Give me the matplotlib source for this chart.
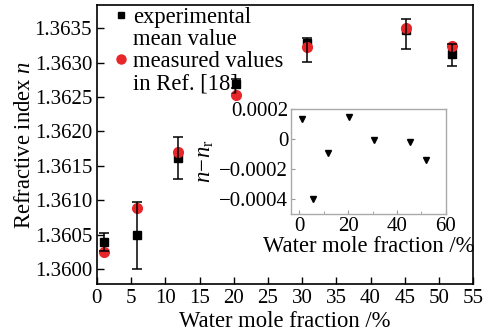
import matplotlib
matplotlib.use("Agg")
import matplotlib.pyplot as plt
from matplotlib.ticker import FuncFormatter, MultipleLocator, FixedLocator
from matplotlib.lines import Line2D

plt.rcParams['font.family'] = ['Liberation Serif', 'DejaVu Serif']
plt.rcParams['mathtext.fontset'] = 'custom'
plt.rcParams['mathtext.rm'] = 'Liberation Serif'
plt.rcParams['mathtext.it'] = 'Liberation Serif:italic'
plt.rcParams['axes.unicode_minus'] = True

# data
water_frac = [1.1, 5.8, 11.9, 20.3, 30.7, 45.2, 51.9]
exp_mean = [1.36039, 1.36049, 1.36161, 1.36269, 1.36329, 1.36348, 1.36312]
err_low = [0.00013, 0.00049, 0.00030, 0.00006, 0.00028, 0.00028, 0.00017]
err_high = [0.00013, 0.00048, 0.00031, 0.00007, 0.00007, 0.00015, 0.00015]
ref_vals = [1.36025, 1.36088, 1.36170, 1.36253, 1.36323, 1.36351, 1.36325]
inset_x = [1.1, 5.8, 11.9, 20.3, 30.7, 45.2, 51.9]
diff_vals = [0.000132, -0.000402, -0.000091, 0.000149, -0.000007, -0.000018, -0.000140]

FS = 15    # tick labels
LFS = 16.3  # axis labels / legend

fig = plt.figure(figsize=(4.97, 3.33), dpi=100)
ax = fig.add_axes([0.195, 0.147, 0.757, 0.838])

ax.plot(water_frac, exp_mean, 's', color='black', ms=5.5, zorder=3)
ax.plot(water_frac, ref_vals, 'o', color='#e8262a', ms=7, zorder=4)
ax.errorbar(water_frac, exp_mean, yerr=[err_low, err_high], fmt='none', ecolor='black',
            elinewidth=1.1, capsize=3.5, capthick=1.1, zorder=5)

ax.set_xlim(0, 55)
ax.set_ylim(1.35978, 1.36384)
ax.xaxis.set_major_locator(MultipleLocator(5))
ax.yaxis.set_major_locator(MultipleLocator(0.0005))
ax.yaxis.set_major_formatter(FuncFormatter(lambda v, p: f"{v:.4f}"))
ax.tick_params(direction='in', length=5, width=1, labelsize=FS, top=False, right=False)
for s in ax.spines.values():
    s.set_linewidth(1.2)
ax.set_xlabel('Water mole fraction /%', fontsize=LFS, labelpad=2)
ax.set_ylabel('Refractive index $n$', fontsize=LFS, labelpad=0)

blank = Line2D([], [], linestyle='none', marker=None)
h_sq = Line2D([], [], linestyle='none', marker='s', color='black', ms=5)
h_ci = Line2D([], [], linestyle='none', marker='o', color='#e8262a', ms=6.5)
leg = ax.legend([h_sq, blank, h_ci, blank],
                ['experimental', 'mean value', 'measured values', 'in Ref. [18]'],
                loc='upper left', frameon=False, fontsize=LFS, handlelength=0.5,
                handletextpad=0.3, labelspacing=0.05, borderaxespad=0.0,
                bbox_to_anchor=(0.025, 1.025))

# inset
ins = fig.add_axes([0.5855, 0.357, 0.3115, 0.316])
ins.plot(inset_x, diff_vals, 'v', color='black', ms=5)
ins.set_xlim(-3.4, 60)
ins.set_ylim(-0.0005, 0.0002)
ins.xaxis.set_major_locator(FixedLocator([0, 20, 40, 60]))
ins.xaxis.set_minor_locator(FixedLocator([10, 30, 50]))
ins.yaxis.set_major_locator(FixedLocator([-0.0004, -0.0002, 0, 0.0002]))

def fmt_inset(v, p):
    if abs(v) < 1e-12:
        return '0'
    s = f"{v:.4f}"
    return s.replace('-', '\u2212')

ins.yaxis.set_major_formatter(FuncFormatter(fmt_inset))
ins.tick_params(which='both', direction='in', length=3, color='#999999', labelsize=FS,
                pad=2)
ins.tick_params(which='minor', length=2)
for s in ins.spines.values():
    s.set_color('#aaaaaa')
    s.set_linewidth(1.0)
ins.set_xlabel('Water mole fraction /%', fontsize=LFS, labelpad=0)
ins.set_ylabel('$n\\!-\\!n_{\\mathrm{r}}$', fontsize=LFS, labelpad=2)

fig.savefig('out.png', dpi=100)
